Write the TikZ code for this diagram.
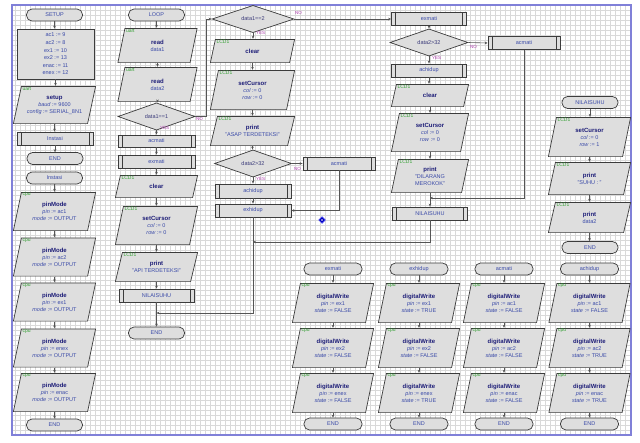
\documentclass[tikz,border=0pt]{standalone}
\usepackage{fontspec}
\setmainfont{Liberation Sans}
\usetikzlibrary{shapes.geometric,arrows.meta}
\definecolor{boxfill}{HTML}{DEDEDE}
\definecolor{boxline}{HTML}{3C3C3C}
\definecolor{linec}{HTML}{555555}
\definecolor{fncol}{HTML}{1E1E78}
\definecolor{argcol}{HTML}{3A4AA8}
\definecolor{typegreen}{HTML}{34A034}
\definecolor{ynpurple}{HTML}{B040B0}
\definecolor{bordercol}{HTML}{8080D8}
\definecolor{gridminor}{HTML}{D9D9D9}
\newcommand\FnName[1]{{\fontsize{6}{7}\selectfont\bfseries\color{fncol}#1}}
\newcommand\ArgV[2]{\textit{#1} := #2}
\newcommand\IOBox[8]{%
  \node[iobox, minimum width=#4pt, minimum height=#5pt, ioslant=#6pt] (#1) at (#2,#3) {#8};
  \node[typel, anchor=north west] (#1t) at ([xshift=#6pt+1.5pt, yshift=-1pt]#1.north west) {#7};}
\newcommand\VC[2]{\draw[conn] (#1.south) -- (#1.south |- #2.north);}
\tikzset{
  ioslant/.store in=\ioslantv, ioslant=8pt,
  conn/.style={draw=linec, line width=0.6pt, -{Stealth[length=3pt,width=2.6pt]}},
  term/.style={draw=boxline, line width=0.7pt, fill=boxfill, rounded corners=5.5pt,
    minimum width=56pt, minimum height=12pt, inner sep=0pt, text=argcol,
    font=\fontsize{5.5}{6.5}\selectfont},
  sub/.style={draw=boxline, line width=0.8pt, fill=boxfill, minimum width=76pt,
    minimum height=13pt, inner sep=0pt, text=argcol, font=\fontsize{5.5}{6.5}\selectfont,
    path picture={\draw[boxline, line width=0.8pt]
      ([xshift=4pt]path picture bounding box.north west) -- ([xshift=4pt]path picture bounding box.south west)
      ([xshift=-4pt]path picture bounding box.north east) -- ([xshift=-4pt]path picture bounding box.south east);}},
  dec/.style={diamond, draw=boxline, line width=0.7pt, fill=boxfill, inner sep=0pt,
    text=fncol!70!gray, font=\fontsize{5.5}{6.5}\selectfont},
  iobox/.style={rectangle, inner sep=0pt, align=center, text=argcol,
    font=\fontsize{5.5}{7}\selectfont,
    path picture={\path[fill=boxfill, draw=boxline, line width=0.7pt]
      ([xshift=\ioslantv+0.4pt, yshift=-0.4pt]path picture bounding box.north west)
      -- ([xshift=-0.4pt, yshift=-0.4pt]path picture bounding box.north east)
      -- ([xshift=-\ioslantv-0.4pt, yshift=0.4pt]path picture bounding box.south east)
      -- ([xshift=0.4pt, yshift=0.4pt]path picture bounding box.south west) -- cycle;}},
  typel/.style={inner sep=0pt, text=typegreen, font=\fontsize{5}{5.5}\selectfont},
  yn/.style={inner sep=0pt, text=ynpurple, font=\fontsize{4.5}{5}\selectfont},
  asgbox/.style={draw=boxline, line width=0.7pt, fill=boxfill, inner sep=0pt, align=center,
    text=argcol, font=\fontsize{5.5}{7.6}\selectfont},
}
\begin{document}
\begin{tikzpicture}[x=1pt,y=-1pt]
\useasboundingbox (0,0) rectangle (640,442);
\fill[white] (0,0) rectangle (640,442);
% grid
\foreach \gx in {15,20,...,630} \draw[gridminor, line width=0.4pt] (\gx,5) -- (\gx,435);
\foreach \gy in {10,15,...,430} \draw[gridminor, line width=0.4pt] (12,\gy) -- (631,\gy);
\draw[bordercol, line width=1.2pt] (12,435) -- (12,5) -- (631,5) -- (631,435) -- cycle;

% ---------- Column A : SETUP / Instasi
\node[term] (setupT) at (54.5,15) {SETUP};
\node[asgbox, minimum width=77pt, minimum height=50pt] (asg) at (55.5,54)
  {ac1 := 9\\ac2 := 8\\ex1 := 10\\ex2 := 13\\enac := 11\\enex := 12};
\IOBox{setupIO}{54.5}{105}{83}{38}{8}{uart}{\FnName{setup}\\\ArgV{baud}{9600}\\\ArgV{config}{SERIAL\_8N1}}
\node[sub] (instC) at (55,138.5) {Instasi};
\node[term] (endA) at (55,158.5) {END};
\node[term] (instT) at (54.5,178) {Instasi};
\IOBox{pmA}{54.5}{211.5}{83}{39}{8}{cpu}{\FnName{pinMode}\\\ArgV{pin}{ac1}\\\ArgV{mode}{OUTPUT}}
\IOBox{pmB}{54.5}{257}{83}{39}{8}{cpu}{\FnName{pinMode}\\\ArgV{pin}{ac2}\\\ArgV{mode}{OUTPUT}}
\IOBox{pmC}{54.5}{302}{83}{39}{8}{cpu}{\FnName{pinMode}\\\ArgV{pin}{ex1}\\\ArgV{mode}{OUTPUT}}
\IOBox{pmD}{54.5}{348}{83}{39}{8}{cpu}{\FnName{pinMode}\\\ArgV{pin}{enex}\\\ArgV{mode}{OUTPUT}}
\IOBox{pmE}{54.5}{392.5}{83}{39}{8}{cpu}{\FnName{pinMode}\\\ArgV{pin}{enac}\\\ArgV{mode}{OUTPUT}}
\node[term] (endA2) at (54.5,425) {END};
\VC{setupT}{asg} \VC{asg}{setupIO} \VC{setupIO}{instC} \VC{instC}{endA}
\VC{instT}{pmA} \VC{pmA}{pmB} \VC{pmB}{pmC} \VC{pmC}{pmD} \VC{pmD}{pmE} \VC{pmE}{endA2}

% ---------- Column B : LOOP
\node[term] (loopT) at (156.5,15) {LOOP};
\IOBox{rdA}{157.5}{45.5}{80}{35}{7}{uart}{\FnName{read}\\data1}
\IOBox{rdB}{157.5}{84.5}{80}{35}{7}{uart}{\FnName{read}\\data2}
\node[dec, minimum width=77pt, minimum height=17pt] (dA) at (156.5,116.5) {data1==1};
\node[sub, minimum width=77pt, minimum height=12pt] (acmB) at (156.5,141) {acmati};
\node[sub, minimum width=77pt] (exmB) at (156.5,161.5) {exmati};
\IOBox{clrB}{156.5}{186.5}{83}{23}{5}{LCD1}{\FnName{clear}}
\IOBox{scB}{156.5}{225.5}{83}{39}{8}{LCD1}{\FnName{setCursor}\\\ArgV{col}{0}\\\ArgV{row}{0}}
\IOBox{prB}{156.5}{267}{83}{30}{7}{LCD1}{\FnName{print}\\"API TERDETEKSI"}
\node[sub, minimum width=75pt] (nilB) at (156.5,295.5) {NILAISUHU};
\coordinate (jB) at (156.5,313);
\node[term] (endB) at (156.5,333) {END};
\node[yn, anchor=west] (yesA) at (160,128) {YES};
\node[yn, anchor=west] (noA) at (196,119) {NO};
\VC{loopT}{rdA} \VC{rdA}{rdB} \VC{rdB}{dA} \VC{dA}{acmB} \VC{acmB}{exmB} \VC{exmB}{clrB}
\VC{clrB}{scB} \VC{scB}{prB} \VC{prB}{nilB} \VC{nilB}{endB}

% ---------- Column C
\node[dec, minimum width=82pt, minimum height=23pt] (dC) at (253,19) {data1==2};
\IOBox{clrC}{252.5}{51}{85}{24}{5}{LCD1}{\FnName{clear}}
\IOBox{scC}{252.5}{90}{85}{40}{8}{LCD1}{\FnName{setCursor}\\\ArgV{col}{0}\\\ArgV{row}{0}}
\IOBox{prC}{252.5}{131}{85}{30}{7}{LCD1}{\FnName{print}\\"ASAP TERDETEKSI"}
\node[dec, minimum width=77pt, minimum height=19pt] (dC2) at (253,163.5) {data2>32};
\node[sub, minimum width=72pt] (acmC) at (339,163.5) {acmati};
\node[sub, minimum width=76pt, minimum height=14pt] (achC) at (253,191) {achidup};
\node[sub, minimum width=76pt] (exhC) at (253,210.5) {exhidup};
\coordinate (jC) at (253,242);
\node[diamond, fill=blue!75!black, draw=blue!60, line width=0.5pt, minimum size=7pt, inner sep=0pt] (mk) at (322,220) {};
\node[circle, fill=white, minimum size=1.6pt, inner sep=0pt] (mkc) at (mk.center) {};
\node[yn, anchor=west] (noC) at (295,13) {NO};
\node[yn, anchor=west] (yesC) at (256,33) {YES};
\node[yn, anchor=west] (noC2) at (294,169) {NO};
\node[yn, anchor=west] (yesC2) at (256,179) {YES};
\draw[conn] (dA.east) -- ++(11,0) |- (dC.west);
\VC{dC}{clrC} \VC{clrC}{scC} \VC{scC}{prC} \VC{prC}{dC2} \VC{dC2}{achC} \VC{achC}{exhC}
\draw[conn] (dC2.east) -- (acmC.west);
\draw[conn] (acmC.south) |- (exhC.east);
\draw[conn] (exhC.south) |- (jB);

% ---------- Column D
\node[sub, minimum width=75pt] (exmD) at (429,19) {exmati};
\node[dec, minimum width=78pt, minimum height=19pt] (dD) at (429,42.5) {data2>32};
\node[sub, minimum width=72pt] (acmD) at (524,43) {acmati};
\node[sub, minimum width=75pt] (achD) at (429,70.5) {achidup};
\IOBox{clrD}{430}{95.5}{78}{23}{5}{LCD1}{\FnName{clear}}
\IOBox{scD}{430}{132.5}{78}{39}{8}{LCD1}{\FnName{setCursor}\\\ArgV{col}{0}\\\ArgV{row}{0}}
\IOBox{prD}{430}{176}{78}{34}{7}{LCD1}{\FnName{print}\\"DILARANG\\MEROKOK"}
\coordinate (jD) at (430,198);
\node[sub, minimum width=75pt] (nilD) at (430,213.5) {NILAISUHU};
\node[yn, anchor=west] (noD) at (470,47) {NO};
\node[yn, anchor=west] (yesD) at (432,58) {YES};
\draw[conn] (dC.east) -- (exmD.west);
\VC{exmD}{dD} \VC{dD}{achD} \VC{achD}{clrD} \VC{clrD}{scD} \VC{scD}{prD} \VC{prD}{nilD}
\draw[conn] (dD.east) -- (acmD.west);
\draw[conn] (acmD.south) |- (jD);
\draw[conn] (nilD.south) |- (jC);

% ---------- Column E : NILAISUHU
\node[term] (nilT) at (590,102.5) {NILAISUHU};
\IOBox{scE}{589.5}{137}{83}{40}{8}{LCD1}{\FnName{setCursor}\\\ArgV{col}{0}\\\ArgV{row}{1}}
\IOBox{prE}{589.5}{178.5}{83}{33}{7}{LCD1}{\FnName{print}\\"SUHU : "}
\IOBox{prF}{589.5}{217.5}{83}{31}{7}{LCD1}{\FnName{print}\\data2}
\node[term] (endE) at (590,247.5) {END};
\VC{nilT}{scE} \VC{scE}{prE} \VC{prE}{prF} \VC{prF}{endE}

% ---------- Bottom: exmati / exhidup / acmati / achidup
\foreach \nm/\cx/\pa/\sa/\pb/\sb/\pc/\sc in {
  exm/333/ex1/FALSE/ex2/FALSE/enex/FALSE,
  exh/419/ex1/TRUE/ex2/FALSE/enex/TRUE,
  acm/504/ac1/FALSE/ac2/FALSE/enac/FALSE,
  ach/589.5/ac1/FALSE/ac2/TRUE/enac/TRUE}{
  \IOBox{\nm W1}{\cx}{303}{82}{40}{8}{cpu}{\FnName{digitalWrite}\\\ArgV{pin}{\pa}\\\ArgV{state}{\sa}}
  \IOBox{\nm W2}{\cx}{348}{82}{40}{8}{cpu}{\FnName{digitalWrite}\\\ArgV{pin}{\pb}\\\ArgV{state}{\sb}}
  \IOBox{\nm W3}{\cx}{393}{82}{40}{8}{cpu}{\FnName{digitalWrite}\\\ArgV{pin}{\pc}\\\ArgV{state}{\sc}}
  \node[term, minimum width=58pt] (\nm E) at (\cx,424) {END};
  \VC{\nm W1}{\nm W2} \VC{\nm W2}{\nm W3} \VC{\nm W3}{\nm E}
}
\node[term, minimum width=58pt] (exmT) at (333,269) {exmati};
\node[term, minimum width=58pt] (exhT) at (419,269) {exhidup};
\node[term, minimum width=58pt] (acmT) at (504,269) {acmati};
\node[term, minimum width=58pt] (achT) at (589.5,269) {achidup};
\VC{exmT}{exmW1} \VC{exhT}{exhW1} \VC{acmT}{acmW1} \VC{achT}{achW1}
\end{tikzpicture}
\end{document}
